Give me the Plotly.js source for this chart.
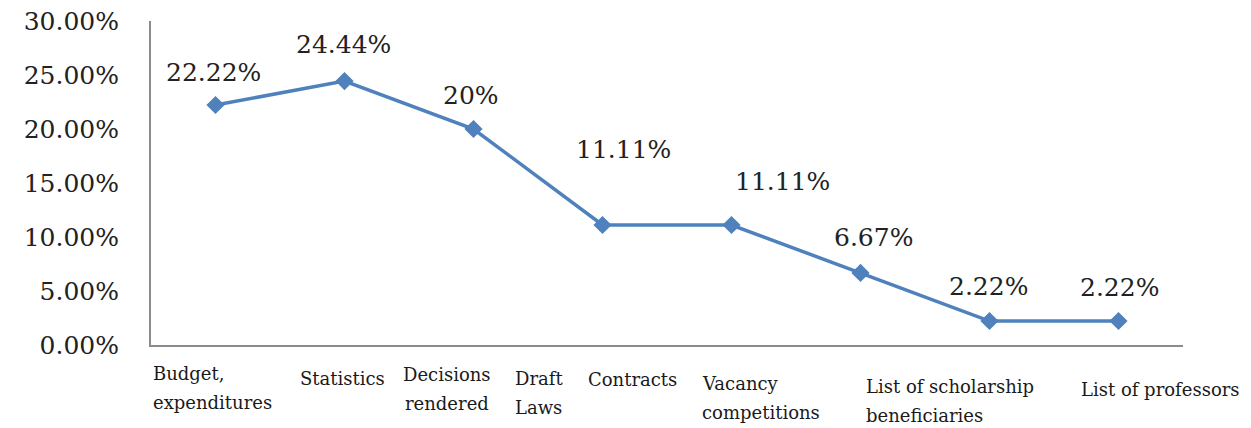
<!DOCTYPE html>
<html>
<head>
<meta charset="utf-8">
<script src="https://cdn.plot.ly/plotly-3.0.1.min.js"></script>
<style>
html,body{margin:0;padding:0;background:#fff;}
#chart{width:1251px;height:428px;}
</style>
</head>
<body>
<div id="chart"></div>
<script>
// Data
const categories = ["Budget,<br>expenditures", "Statistics", "Decisions<br>rendered", "Draft<br>Laws", "Contracts", "Vacancy<br>competitions", "List of scholarship<br>beneficiaries", "List of professors"];
const values = [22.22, 24.44, 20, 11.11, 11.11, 6.67, 2.22, 2.22];
const valueLabels = ["22.22%", "24.44%", "20%", "11.11%", "11.11%", "6.67%", "2.22%", "2.22%"];
const yTickVals = [0, 5, 10, 15, 20, 25, 30];
const yTickText = ["0.00%", "5.00%", "10.00%", "15.00%", "20.00%", "25.00%", "30.00%"];

// label offsets (pixels) – styling only
const labelShiftX = [-2, -1, -3, 21, 51, 13, -1, 1];
const labelShiftY = [33, 37, 34, 76, 44, 35, 35, 34];
const catShiftX = [-65, -47, -27, -90, -146, -161, -126, -40];
const catShiftY = [-16, -21, -17, -21, -22, -26, -29, -32];
const catAnchor = ['left', 'left', 'center', 'left', 'left', 'left', 'left', 'left'];
const catLineGap = 29;

const xIdx = categories.map((c, i) => i);

const trace = {
  x: xIdx,
  y: values,
  type: 'scatter',
  mode: 'lines+markers',
  line: {color: '#4F81BD', width: 3.5},
  marker: {symbol: 'diamond', size: 14, color: '#4F81BD'},
  hoverinfo: 'skip'
};

const dataLabels = values.map((v, i) => ({
  x: xIdx[i], y: v, xref: 'x', yref: 'y',
  text: valueLabels[i], showarrow: false,
  xshift: labelShiftX[i], yshift: labelShiftY[i],
  font: {family: 'DejaVu Serif, serif', size: 25, color: '#222'}
}));

const catLabels = [];
categories.forEach((c, i) => {
  c.split('<br>').forEach((line, k) => {
    catLabels.push({
      x: xIdx[i], y: 0, xref: 'x', yref: 'y',
      text: line, showarrow: false,
      xanchor: catAnchor[i], yanchor: 'top',
      xshift: catShiftX[i], yshift: catShiftY[i] - k * catLineGap,
      font: {family: 'DejaVu Serif, serif', size: 18, color: '#1a1a1a'}
    });
  });
});

const layout = {
  width: 1251, height: 428,
  margin: {l: 151, r: 68, t: 21, b: 83},
  paper_bgcolor: '#fff', plot_bgcolor: '#fff',
  showlegend: false,
  xaxis: {
    range: [-0.5, 7.5],
    tickvals: xIdx,
    showticklabels: false,
    showgrid: false, zeroline: false,
    showline: true, linecolor: '#8c8c8c', linewidth: 2,
    ticks: '',
    fixedrange: true
  },
  yaxis: {
    range: [0, 30],
    tickvals: yTickVals,
    ticktext: yTickText,
    showgrid: false, zeroline: false,
    showline: true, linecolor: '#8c8c8c', linewidth: 2,
    ticks: '',
    ticklabelstandoff: 25,
    tickfont: {family: 'DejaVu Serif, serif', size: 25, color: '#222'},
    fixedrange: true
  },
  annotations: dataLabels.concat(catLabels)
};

Plotly.newPlot('chart', [trace], layout, {displayModeBar: false, staticPlot: true});
</script>
</body>
</html>
